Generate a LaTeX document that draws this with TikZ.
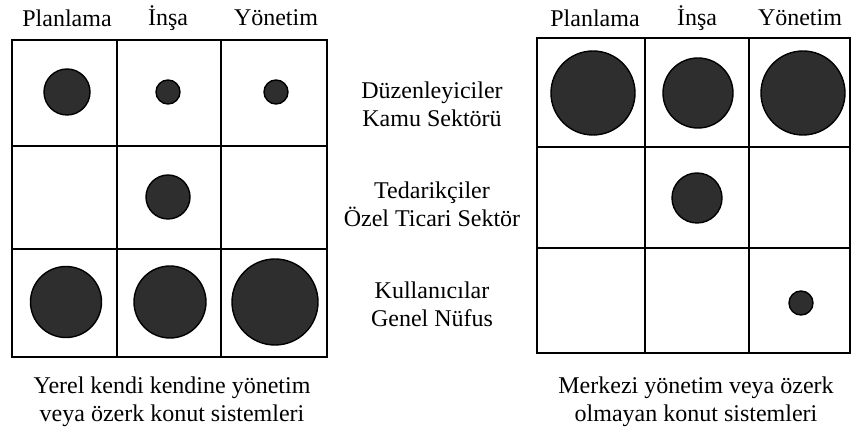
\documentclass[tikz,border=0pt]{standalone}
\usepackage{fontspec}
\setmainfont{Liberation Serif}
\begin{document}
\begin{tikzpicture}[x=1pt,y=-1pt,
  grid/.style={draw=black,line width=1.8pt},
  dot/.style={circle,draw=black,line width=1.4pt,fill=black!82,inner sep=0pt,minimum size=#1},
  lbl/.style={font=\fontsize{24}{28}\selectfont,inner sep=0pt,align=center}]
\useasboundingbox (0,0) rectangle (852,443);
% left grid
\draw[grid] (12,40) rectangle (327,357);
\draw[grid] (117,40) -- (117,357) (221,40) -- (221,357);
\draw[grid] (12,146) -- (327,146) (12,249) -- (327,249);
% right grid
\draw[grid] (537,38) rectangle (850,353);
\draw[grid] (645,38) -- (645,353) (749,38) -- (749,353);
\draw[grid] (537,147) -- (850,147) (537,248) -- (850,248);
% headers
\node[lbl] (hl1) at (67,18) {Planlama};
\node[lbl] (hl2) at (168,18) {İnşa};
\node[lbl] (hl3) at (276,18) {Yönetim};
\node[lbl] (hr1) at (595,18) {Planlama};
\node[lbl] (hr2) at (697,18) {İnşa};
\node[lbl] (hr3) at (800,18) {Yönetim};
% row labels
\node[lbl] (r1) at (432,104) {Düzenleyiciler\\Kamu Sektörü};
\node[lbl] (r2) at (432,204) {Tedarikçiler\\Özel Ticari Sektör};
\node[lbl] (r3) at (432,304) {Kullanıcılar\\Genel Nüfus};
% captions
\node[lbl] (cl) at (172,402) {Yerel kendi kendine yönetim\\veya özerk konut sistemleri};
\node[lbl] (cr) at (696,402) {Merkezi yönetim veya özerk\\olmayan konut sistemleri};
% left dots
\node[dot=46pt] (l11) at (67,92) {};
\node[dot=24pt] (l12) at (168,92) {};
\node[dot=24pt] (l13) at (276,92) {};
\node[dot=44pt] (l22) at (168,197) {};
\node[dot=71pt] (l31) at (66,302) {};
\node[dot=72pt] (l32) at (170,302) {};
\node[dot=86pt] (l33) at (275,302) {};
% right dots
\node[dot=84pt] (r11) at (593,93) {};
\node[dot=70pt] (r12) at (698,93) {};
\node[dot=84pt] (r13) at (803,93) {};
\node[dot=50pt] (r22) at (697,198) {};
\node[dot=24pt] (r33) at (801,303) {};
\end{tikzpicture}
\end{document}
